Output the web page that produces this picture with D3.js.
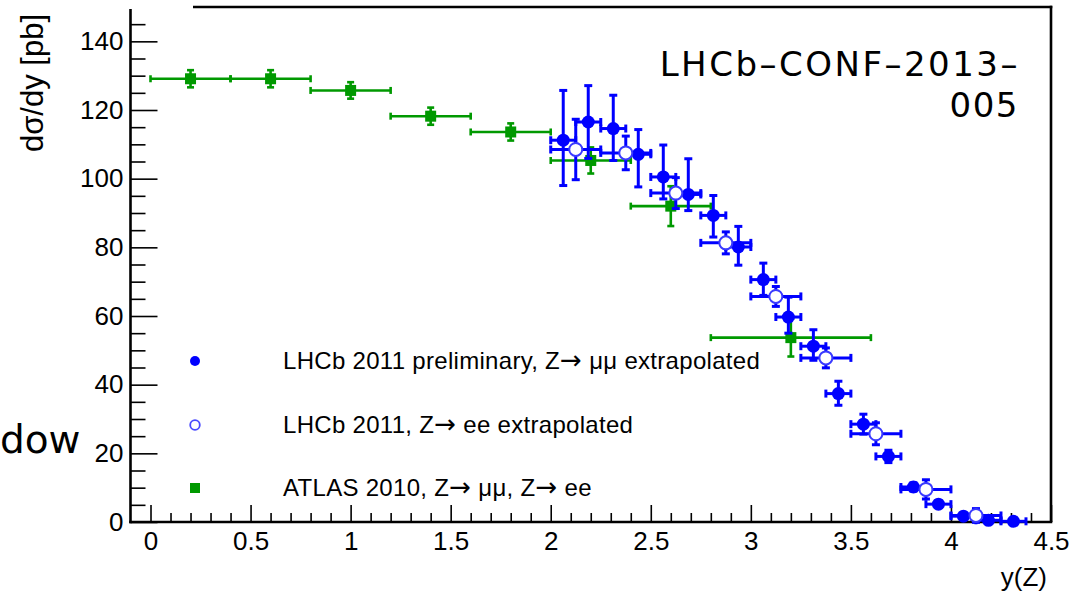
<!DOCTYPE html>
<html>
<head>
<meta charset="utf-8">
<script src="https://cdn.jsdelivr.net/npm/d3@7"></script>
<style>
  body { margin: 0; background: #fff; }
  text { font-family: "Liberation Sans", Arial, sans-serif; }
</style>
</head>
<body>
<div id="chart"></div>
<script>
// LHCb 2011 (Z->mumu), bins of 0.125 in y(Z)
var muX = [2.0625, 2.1875, 2.3125, 2.4375, 2.5625, 2.6875, 2.8125, 2.9375, 3.0625, 3.1875,
           3.3125, 3.4375, 3.5625, 3.6875, 3.8125, 3.9375, 4.0625, 4.1875, 4.3125];
var muY = [111.2, 116.5, 114.6, 107.1, 100.5, 95.4, 89.3, 80.1, 70.6, 59.7,
           51.2, 37.4, 28.5, 19.1, 10.2, 5.2, 1.7, 0.5, 0.2];
var muErrUp = [14.5, 10.6, 9.7, 7.2, 9.3, 10.4, 5.8, 6.0, 4.8, 5.8,
               4.8, 3.6, 2.9, 1.8, 1.2, 1.0, 0.8, 0.6, 0.5];
var muErrDown = [13.2, 10.6, 9.3, 9.5, 6.4, 4.7, 6.3, 5.3, 4.6, 4.7,
                 4.1, 3.4, 2.9, 1.8, 1.2, 1.0, 0.8, 0.6, 0.5];
var muHalfBin = 0.0625;

// LHCb 2011 (Z->ee), bins of 0.25
var eeX = [2.125, 2.375, 2.625, 2.875, 3.125, 3.375, 3.625, 3.875, 4.125];
var eeY = [108.5, 107.5, 95.8, 81.3, 65.7, 47.8, 25.7, 9.5, 1.9];
var eeErr = [8.8, 4.9, 4.5, 3.2, 2.9, 2.9, 3.2, 2.8, 2.0];
var eeHalfBin = 0.125;

// ATLAS 2010
var atlasX = [0.2, 0.6, 1.0, 1.4, 1.8, 2.2, 2.6, 3.2];
var atlasXLo = [0, 0.4, 0.8, 1.2, 1.6, 2.0, 2.4, 2.8];
var atlasXHi = [0.4, 0.8, 1.2, 1.6, 2.0, 2.4, 2.8, 3.6];
var atlasY = [129.1, 129.1, 125.7, 118.2, 113.6, 105.3, 92.0, 53.7];
var atlasErr = [2.5, 2.5, 2.4, 2.5, 2.5, 3.8, 5.8, 5.5];

var xTicks = [0, 0.5, 1, 1.5, 2, 2.5, 3, 3.5, 4, 4.5];
var xTickLabels = ['0', '0.5', '1', '1.5', '2', '2.5', '3', '3.5', '4', '4.5'];
var yTicks = [0, 20, 40, 60, 80, 100, 120, 140];

var legendLabels = [
    'LHCb 2011 preliminary, Z\u2192 \u03bc\u03bc extrapolated',
    'LHCb 2011, Z\u2192 ee extrapolated',
    'ATLAS 2010, Z\u2192 \u03bc\u03bc, Z\u2192 ee'
];

var width = 1075, height = 591;
var plot = { left: 130.5, right: 1051, top: 7, bottom: 522 };

var blue = '#0000ff';
var green = '#009900';

var svg = d3.select('#chart')
    .append('svg')
    .attr('width', width)
    .attr('height', height);

var x = d3.scaleLinear().domain([-0.1, 4.5]).range([plot.left, plot.right]);
var y = d3.scaleLinear().domain([0, 150]).range([plot.bottom, plot.top]);

// minor ticks
var xMinor = d3.range(0, 4.45, 0.1).filter(function(v) { return Math.abs(v * 2 - Math.round(v * 2)) > 1e-6; });
var yMinor = d3.range(5, 150, 5).filter(function(v) { return v % 20 !== 0; });

svg.append('g')
    .attr('transform', `translate(0, ${plot.bottom})`)
    .call(d3.axisBottom(x).tickValues(xMinor).tickSize(-9).tickFormat(''))
    .call(function(g) { g.select('.domain').remove(); });

svg.append('g')
    .attr('class', 'xaxis')
    .attr('transform', `translate(0, ${plot.bottom})`)
    .call(d3.axisBottom(x).tickValues(xTicks).tickSize(-17).tickPadding(10)
        .tickFormat(function(d, i) { return xTickLabels[i]; }))
    .call(function(g) { g.select('.domain').remove(); });

svg.append('g')
    .attr('transform', `translate(${plot.left}, 0)`)
    .call(d3.axisLeft(y).tickValues(yMinor).tickSize(-15).tickFormat(''))
    .call(function(g) { g.select('.domain').remove(); });

svg.append('g')
    .attr('class', 'yaxis')
    .attr('transform', `translate(${plot.left}, 0)`)
    .call(d3.axisLeft(y).tickValues(yTicks).tickSize(-27).tickPadding(7))
    .call(function(g) { g.select('.domain').remove(); });

svg.selectAll('.tick line').attr('stroke', '#000').attr('stroke-width', 1.6);
svg.selectAll('.xaxis text, .yaxis text')
    .style('font-size', '26px')
    .style('font-family', '"Liberation Sans", Arial, sans-serif')
    .attr('fill', '#000');

// frame (top edge starts a bit right of the corner, like the picture)
var frame = svg.append('g').attr('stroke', '#000').attr('stroke-width', 2.6).attr('fill', 'none');
frame.append('line').attr('x1', plot.left).attr('x2', plot.left).attr('y1', 9).attr('y2', plot.bottom + 1.3);
frame.append('line').attr('x1', plot.left - 1.3).attr('x2', plot.right + 1.3).attr('y1', plot.bottom).attr('y2', plot.bottom);
frame.append('line').attr('x1', plot.right).attr('x2', plot.right).attr('y1', plot.top - 1.3).attr('y2', plot.bottom);
frame.append('line').attr('x1', 193).attr('x2', plot.right + 1.3).attr('y1', plot.top).attr('y2', plot.top);

// axis titles
svg.append('text')
    .attr('transform', 'translate(43, 14) rotate(-90)')
    .attr('text-anchor', 'end')
    .style('font-size', '31px')
    .text('d\u03c3/dy [pb]');

svg.append('text')
    .attr('x', 1047)
    .attr('y', 586)
    .attr('text-anchor', 'end')
    .style('font-size', '26px')
    .text('y(Z)');

// error bars with end caps
function drawErrors(g, pts, color, lw, cap) {
    pts.forEach(function(p) {
        var px = x(p.x), py = y(p.y);
        var x0 = x(p.xlo), x1 = x(p.xhi);
        var y0 = y(p.y - p.down), y1 = y(p.y + p.up);
        g.append('line').attr('x1', x0).attr('x2', x1).attr('y1', py).attr('y2', py);
        g.append('line').attr('x1', px).attr('x2', px).attr('y1', y0).attr('y2', y1);
        g.append('line').attr('x1', x0).attr('x2', x0).attr('y1', py - cap).attr('y2', py + cap);
        g.append('line').attr('x1', x1).attr('x2', x1).attr('y1', py - cap).attr('y2', py + cap);
        if (p.up > 0.3) {
            g.append('line').attr('x1', px - cap).attr('x2', px + cap).attr('y1', y0).attr('y2', y0);
            g.append('line').attr('x1', px - cap).attr('x2', px + cap).attr('y1', y1).attr('y2', y1);
        }
    });
    g.attr('stroke', color).attr('stroke-width', lw).attr('fill', 'none');
}

var atlasPts = atlasX.map(function(v, i) {
    return { x: v, y: atlasY[i], xlo: atlasXLo[i], xhi: atlasXHi[i], up: atlasErr[i], down: atlasErr[i] };
});
var muPts = muX.map(function(v, i) {
    return { x: v, y: muY[i], xlo: v - muHalfBin, xhi: v + muHalfBin, up: muErrUp[i], down: muErrDown[i] };
});
var eePts = eeX.map(function(v, i) {
    return { x: v, y: eeY[i], xlo: v - eeHalfBin, xhi: v + eeHalfBin, up: eeErr[i], down: eeErr[i] };
});

drawErrors(svg.append('g'), atlasPts, green, 2.6, 3.5);
svg.append('g').selectAll('rect').data(atlasPts).enter()
    .append('rect')
    .attr('x', function(d) { return x(d.x) - 5.5; })
    .attr('y', function(d) { return y(d.y) - 5.5; })
    .attr('width', 11).attr('height', 11)
    .attr('fill', green);

drawErrors(svg.append('g'), muPts, blue, 3, 4);
svg.append('g').selectAll('circle').data(muPts).enter()
    .append('circle')
    .attr('cx', function(d) { return x(d.x); })
    .attr('cy', function(d) { return y(d.y); })
    .attr('r', 6.5)
    .attr('fill', blue);

drawErrors(svg.append('g'), eePts, blue, 3, 4);
svg.append('g').selectAll('circle').data(eePts).enter()
    .append('circle')
    .attr('cx', function(d) { return x(d.x); })
    .attr('cy', function(d) { return y(d.y); })
    .attr('r', 6.5)
    .attr('fill', '#fff')
    .attr('stroke', '#3a3aff')
    .attr('stroke-width', 2);

// legend
var legendY = [361, 425, 488];
var legend = svg.append('g');
legend.append('circle').attr('cx', 195).attr('cy', legendY[0]).attr('r', 5).attr('fill', blue);
legend.append('circle').attr('cx', 195).attr('cy', legendY[1]).attr('r', 4.8)
    .attr('fill', '#fff').attr('stroke', '#4a4aff').attr('stroke-width', 1.8);
legend.append('rect').attr('x', 190).attr('y', legendY[2] - 5).attr('width', 10).attr('height', 10).attr('fill', green);

legend.selectAll('text').data(legendLabels).enter()
    .append('text')
    .attr('x', 283)
    .attr('y', function(d, i) { return legendY[i] + 8; })
    .style('font-size', '24px')
    .style('letter-spacing', '0.3px')
    .each(function(d) {
        // arrows drawn from DejaVu, which has a proper long arrow
        var t = d3.select(this);
        d.split('\u2192').forEach(function(part, i) {
            if (i > 0) {
                t.append('tspan').style('font-family', '"DejaVu Sans", sans-serif')
                    .style('font-size', '26px').text('\u2192');
            }
            t.append('tspan').text(part);
        });
    });

// overlaid labels
svg.append('text')
    .attr('x', 1020).attr('y', 76)
    .attr('text-anchor', 'end')
    .style('font-family', '"DejaVu Sans", sans-serif')
    .style('font-size', '34px')
    .style('letter-spacing', '2.5px')
    .text('LHCb\u2013CONF\u20132013\u2013');
svg.append('text')
    .attr('x', 1019).attr('y', 117)
    .attr('text-anchor', 'end')
    .style('font-family', '"DejaVu Sans", sans-serif')
    .style('font-size', '34px')
    .style('letter-spacing', '1.5px')
    .text('005');

svg.append('text')
    .attr('x', 0).attr('y', 453)
    .style('font-family', '"DejaVu Sans", sans-serif')
    .style('font-size', '39px')
    .text('dow');
</script>
</body>
</html>
